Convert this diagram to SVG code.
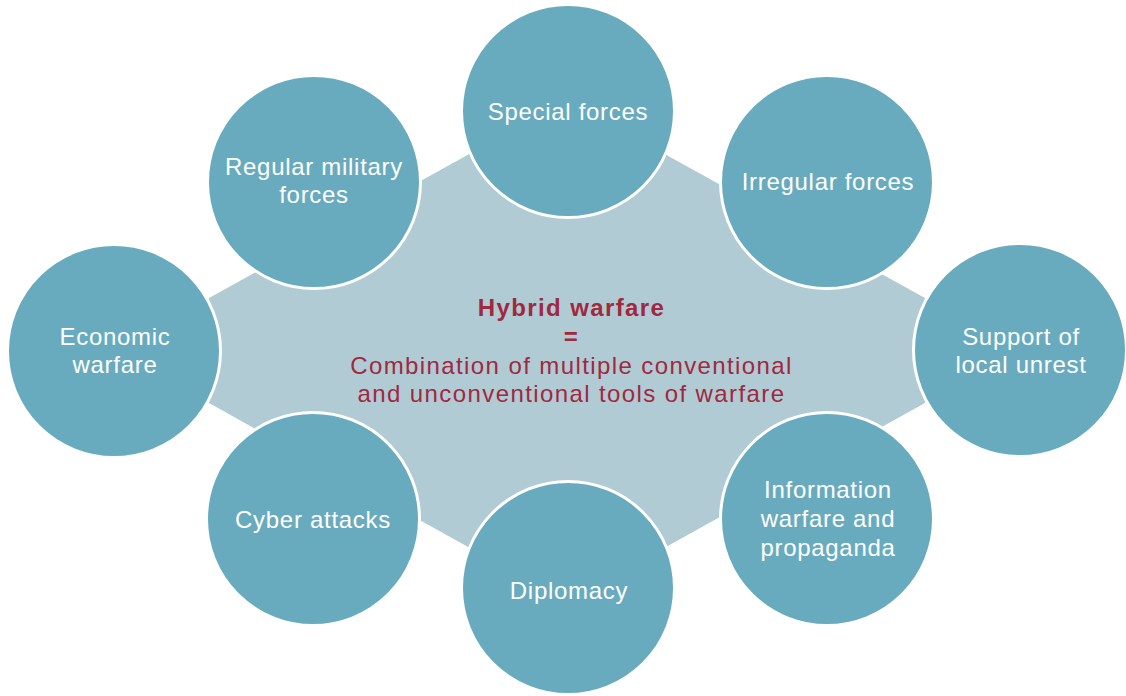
<svg xmlns="http://www.w3.org/2000/svg" width="1126" height="696" viewBox="0 0 1126 696">
<style>
.node circle{fill:#69abbe;stroke:#ffffff;stroke-width:3}
.node text{font-family:"Liberation Sans",Arial,sans-serif;font-size:24px;fill:#ffffff;text-anchor:middle;letter-spacing:0.7px}
.core{fill:#b1cbd4}
.ct{font-family:"Liberation Sans",Arial,sans-serif;font-size:24px;fill:#a0283f;text-anchor:middle;letter-spacing:1.4px}
.ct.b{font-weight:bold}
</style>
<rect width="1126" height="696" fill="#ffffff"/>
<g id="connectors"></g>
<g id="hybrid-warfare">
<polygon class="core" points="567,100 925,298 925,403 567,602 209,403 209,298"/>
<text class="ct b" x="571.5" y="316">Hybrid warfare</text>
<text class="ct b" x="571.5" y="345">=</text>
<text class="ct" x="571.5" y="374">Combination of multiple conventional</text>
<text class="ct" x="571.5" y="402">and unconventional tools of warfare</text>
</g>
<g id="special-forces" class="node"><circle cx="568" cy="111" r="106.5"/><text x="568" y="120">Special forces</text></g>
<g id="regular-military-forces" class="node"><circle cx="314" cy="182" r="106.5"/><text x="314" y="175">Regular military</text><text x="314" y="203">forces</text></g>
<g id="irregular-forces" class="node"><circle cx="827" cy="182" r="106.5"/><text x="828" y="190">Irregular forces</text></g>
<g id="economic-warfare" class="node"><circle cx="114" cy="351" r="106.5"/><text x="115" y="345">Economic</text><text x="115" y="373">warfare</text></g>
<g id="support-local-unrest" class="node"><circle cx="1020" cy="350" r="106.5"/><text x="1021" y="345">Support of</text><text x="1021" y="373">local unrest</text></g>
<g id="cyber-attacks" class="node"><circle cx="313" cy="519" r="106.5"/><text x="313" y="528">Cyber attacks</text></g>
<g id="information-warfare" class="node"><circle cx="827" cy="519" r="106.5"/><text x="828" y="498">Information</text><text x="828" y="527">warfare and</text><text x="828" y="556">propaganda</text></g>
<g id="diplomacy" class="node"><circle cx="568" cy="588" r="106.5"/><text x="569" y="599">Diplomacy</text></g>
</svg>
